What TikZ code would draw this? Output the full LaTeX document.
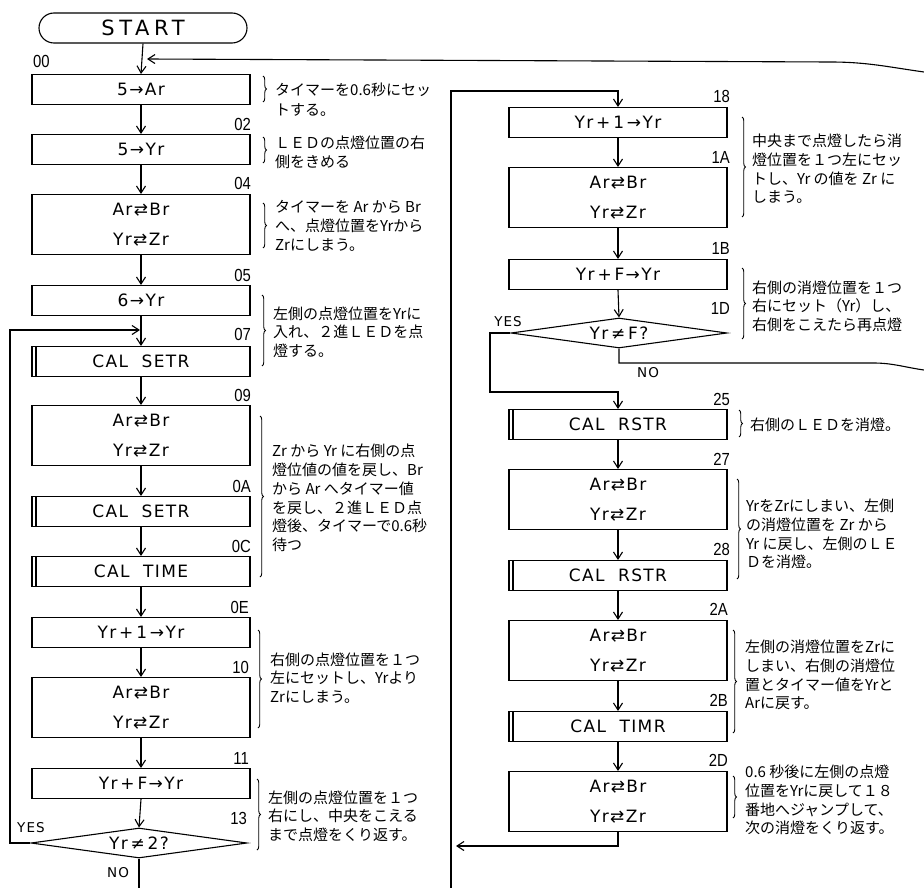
\documentclass[tikz,border=0pt]{standalone}
\usepackage{fontspec}
\setmainfont{Noto Sans CJK JP}
\newfontfamily\boxfont[LetterSpace=8]{DejaVu Sans}
\newfontfamily\startfont[LetterSpace=22]{DejaVu Sans}
\newfontfamily\numfont[FakeStretch=0.85]{Liberation Sans}
\usetikzlibrary{arrows.meta,shapes.geometric,decorations.pathreplacing}
\tikzset{
  box/.style={draw, line width=1.1pt, minimum width=218pt, minimum height=30pt, inner sep=0pt,
    font=\boxfont\fontsize{17}{30}\selectfont, align=center, anchor=north},
  tall/.style={box, minimum height=60pt},
  dec/.style={diamond, draw, line width=1.1pt, aspect=7, minimum width=216pt, minimum height=30pt,
    inner sep=0pt, font=\boxfont\fontsize{17}{20}\selectfont},
  arr/.style={-{Straight Barb[length=7pt,width=9pt,line width=1.1pt]}, line width=1.1pt},
  ln/.style={line width=1.1pt},
  lbl/.style={font=\numfont\fontsize{17.5}{17.5}\selectfont, inner sep=0pt},
  cmt/.style={font=\fontsize{15}{18.7}\selectfont, align=left, inner sep=0pt, anchor=west},
  brc/.style={decorate, decoration={brace, amplitude=3.5pt}, line width=0.9pt},
  yn/.style={font=\boxfont\fontsize{13.5}{13.5}\selectfont, inner sep=0pt}
}
\begin{document}
\begin{tikzpicture}[x=1pt,y=-1pt]
\useasboundingbox[fill=white] (0,0) rectangle (924,888);
% ---------------- left column ----------------
\node[draw, line width=1.1pt, rounded corners=15pt, minimum width=208pt, minimum height=30pt,
  inner sep=0pt, font=\startfont\fontsize{21}{21}\selectfont] (start) at (143,28) {START};
\node[box] (b00) at (141,74) {5→Ar};
\node[box] (b02) at (141,134) {5→Yr};
\node[tall] (b04) at (141,194) {Ar⇄Br\\Yr⇄Zr};
\node[box] (b05) at (141,285) {6→Yr};
\node[box] (b07) at (141,346) {CAL\ \ SETR};
\node[tall] (b09) at (141,405) {Ar⇄Br\\Yr⇄Zr};
\node[box] (b0A) at (141,496) {CAL\ \ SETR};
\node[box] (b0C) at (141,556) {CAL\ \ TIME};
\node[box] (b0E) at (141,617) {Yr\,+\,1\,→Yr};
\node[tall] (b10) at (141,677) {Ar⇄Br\\Yr⇄Zr};
\node[box] (b11) at (141,768) {Yr\,+\,F→Yr};
\node[dec] (d13) at (139,843) {Yr\,≠\,2?};
% ---------------- right column ----------------
\node[box] (b18) at (618,107) {Yr\,+\,1\,→Yr};
\node[tall] (b1A) at (618,167) {Ar⇄Br\\Yr⇄Zr};
\node[box] (b1B) at (618,259) {Yr\,+\,F→Yr};
\node[dec] (d1D) at (619,333) {Yr\,≠\,F?};
\node[box] (b25) at (618,409) {CAL\ \ RSTR};
\node[tall] (b27) at (618,469) {Ar⇄Br\\Yr⇄Zr};
\node[box] (b28) at (618,560) {CAL\ \ RSTR};
\node[tall] (b2A) at (618,620) {Ar⇄Br\\Yr⇄Zr};
\node[box] (b2B) at (618,711) {CAL\ \ TIMR};
\node[tall] (b2D) at (618,771) {Ar⇄Br\\Yr⇄Zr};
% subroutine inner lines
\foreach \s in {b07,b0A,b0C,b25,b28,b2B}
  \draw[ln] ([xshift=4.5pt]\s.north west) -- ([xshift=4.5pt]\s.south west);
% ---------------- address labels ----------------
\node[lbl, anchor=west] (l00) at (33,61) {00};
\node[lbl, anchor=east] (l02) at (251,124) {02};
\node[lbl, anchor=east] (l04) at (251,183) {04};
\node[lbl, anchor=east] (l05) at (251,275) {05};
\node[lbl, anchor=east] (l07) at (251,334) {07};
\node[lbl, anchor=east] (l09) at (251,395) {09};
\node[lbl, anchor=east] (l0A) at (251,486) {0A};
\node[lbl, anchor=east] (l0C) at (251,546) {0C};
\node[lbl, anchor=east] (l0E) at (249,607) {0E};
\node[lbl, anchor=east] (l10) at (249,667) {10};
\node[lbl, anchor=east] (l11) at (249,758) {11};
\node[lbl, anchor=east] (l13) at (247,818) {13};
\node[lbl, anchor=east] (l18) at (730,96) {18};
\node[lbl, anchor=east] (l1A) at (730,157) {1A};
\node[lbl, anchor=east] (l1B) at (730,248) {1B};
\node[lbl, anchor=east] (l1D) at (730,308) {1D};
\node[lbl, anchor=east] (l25) at (730,399) {25};
\node[lbl, anchor=east] (l27) at (730,459) {27};
\node[lbl, anchor=east] (l28) at (730,549) {28};
\node[lbl, anchor=east] (l2A) at (728,609) {2A};
\node[lbl, anchor=east] (l2B) at (728,700) {2B};
\node[lbl, anchor=east] (l2D) at (728,760) {2D};
% YES / NO
\node[yn] (yes1) at (31,828) {YES};
\node[yn] (no1) at (118,873) {NO};
\node[yn] (yes2) at (508,322) {YES};
\node[yn] (no2) at (648,373) {NO};
% ---------------- coordinates ----------------
\coordinate (j00) at (147,59);
\coordinate (top1) at (830,62);
\coordinate (edgeR1) at (924,72);
\coordinate (j07) at (140,330);
\coordinate (yl) at (10,843);
\coordinate (dn) at (139,888);
\coordinate (j18) at (618,91);
\coordinate (rvbot) at (451,888);
\coordinate (x2D) at (456,846);
\coordinate (yr) at (490,392);
\coordinate (nor) at (873,363);
\coordinate (edgeR2) at (924,370);
% ---------------- connectors ----------------
\draw[arr] (start.south) -- (b00.north);
\draw[arr] (edgeR1) to[out=172,in=0] (top1) -- (j00);
\draw[arr] (b00.south) -- (b02.north);
\draw[arr] (b02.south) -- (b04.north);
\draw[arr] (b04.south) -- (b05.north);
\draw[arr] (b05.south) -- (b07.north);
\draw[arr] (b07.south) -- (b09.north);
\draw[arr] (b09.south) -- (b0A.north);
\draw[arr] (b0A.south) -- (b0C.north);
\draw[arr] (b0C.south) -- (b0E.north);
\draw[arr] (b0E.south) -- (b10.north);
\draw[arr] (b10.south) -- (b11.north);
\draw[arr] (b11.south) -- (d13.north);
\draw[arr] (d13.west) -- (yl) |- (j07);
\draw[ln] (d13.south) -- (dn);
\draw[arr] (rvbot) |- (j18) -- (b18.north);
\draw[arr] (b18.south) -- (b1A.north);
\draw[arr] (b1A.south) -- (b1B.north);
\draw[arr] (b1B.south) -- (d1D.north);
\draw[arr] (d1D.west) -| (yr) -| (b25.north);
\draw[ln] (d1D.south) |- (nor) to[out=0,in=172] (edgeR2);
\draw[arr] (b25.south) -- (b27.north);
\draw[arr] (b27.south) -- (b28.north);
\draw[arr] (b28.south) -- (b2A.north);
\draw[arr] (b2A.south) -- (b2B.north);
\draw[arr] (b2B.south) -- (b2D.north);
\draw[arr] (b2D.south) |- (x2D);
% ---------------- braces ----------------
\draw[brc] (263,76) -- (263,102);
\draw[brc] (263,137) -- (263,163);
\draw[brc] (263,203) -- (263,248);
\draw[brc] (262,295) -- (262,366);
\draw[brc] (260,416) -- (260,577);
\draw[brc] (258,630) -- (258,728);
\draw[brc] (257,779) -- (257,850);
\draw[brc] (742,117) -- (742,217);
\draw[brc] (742,268) -- (742,339);
\draw[brc] (739,410) -- (739,437);
\draw[brc] (737,479) -- (737,579);
\draw[brc] (733,630) -- (733,733);
\draw[brc] (733,776) -- (733,818);
% ---------------- comments ----------------
\node[cmt, font=\fontsize{15}{20}\selectfont] (c00) at (275,100) {タイマーを0.6秒にセッ\\トする。};
\node[cmt] (c02) at (275,152) {ＬＥＤの点燈位置の右\\側をきめる};
\node[cmt] (c04) at (275,226) {タイマーを Ar から Br\\へ、点燈位置をYrから\\Zrにしまう。};
\node[cmt] (c07) at (273,332) {左側の点燈位置をYrに\\入れ、２進ＬＥＤを点\\燈する。};
\node[cmt] (c09) at (272,498) {Zr から Yr に右側の点\\燈位値の値を戻し、Br\\から Ar へタイマー値\\を戻し、２進ＬＥＤ点\\燈後、タイマーで0.6秒\\待つ};
\node[cmt] (c10) at (270,678) {右側の点燈位置を１つ\\左にセットし、Yrより\\Zrにしまう。};
\node[cmt] (c13) at (268,816) {左側の点燈位置を１つ\\右にし、中央をこえる\\まで点燈をくり返す。};
\node[cmt] (c18) at (752,169) {中央まで点燈したら消\\燈位置を１つ左にセッ\\トし、Yr の値を Zr に\\しまう。};
\node[cmt] (c1B) at (752,306) {右側の消燈位置を１つ\\右にセット（Yr）し、\\右側をこえたら再点燈};
\node[cmt] (c25) at (750,425) {右側のＬＥＤを消燈。};
\node[cmt] (c27) at (746,534) {YrをZrにしまい、左側\\の消燈位置を Zr から\\Yr に戻し、左側のＬＥ\\Ｄを消燈。};
\node[cmt] (c2A) at (745,675) {左側の消燈位置をZrに\\しまい、右側の消燈位\\置とタイマー値をYrと\\Arに戻す。};
\node[cmt] (c2D) at (745,800) {0.6 秒後に左側の点燈\\位置をYrに戻して１８\\番地へジャンプして、\\次の消燈をくり返す。};
\end{tikzpicture}
\end{document}
